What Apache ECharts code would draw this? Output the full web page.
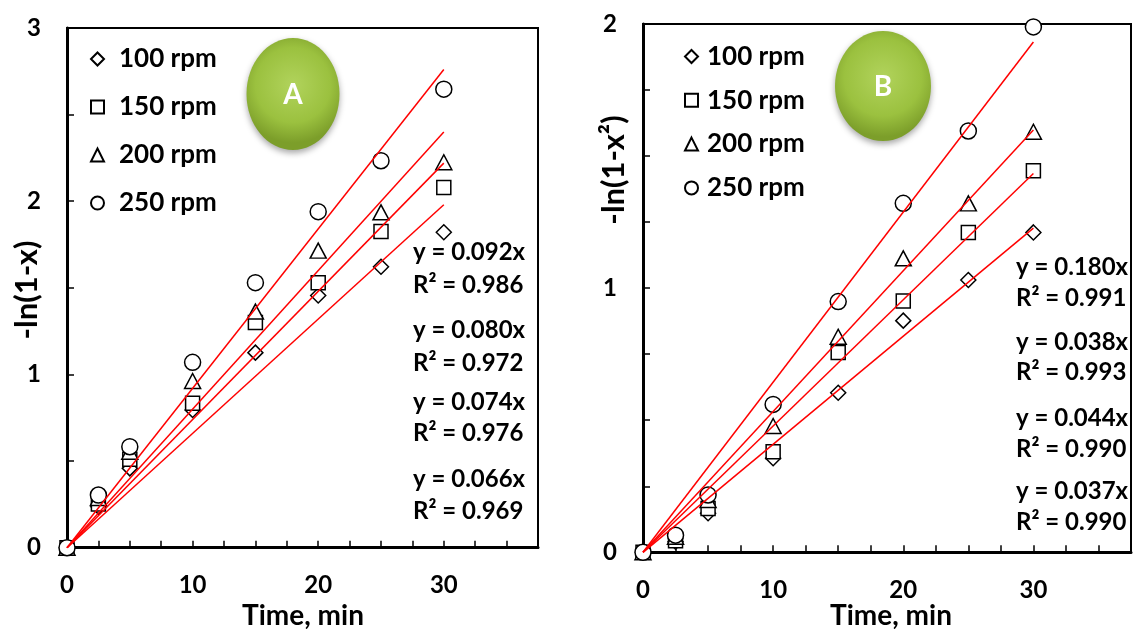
<!DOCTYPE html>
<html><head><meta charset="utf-8">
<script src="https://cdn.jsdelivr.net/npm/echarts@6/dist/echarts.min.js"></script>
<style>html,body{margin:0;padding:0;background:#fff}#c{width:1134px;height:629px}</style>
</head><body><div id="c"></div>
<script>
// ---- shared ----
const times = [0, 2.5, 5, 10, 15, 20, 25, 30];
const seriesNames = ['100 rpm', '150 rpm', '200 rpm', '250 rpm'];
const xTickLabels = ['0', '10', '20', '30'];
const fitEnd = 30;

// ---- Panel A : -ln(1-x) ----
const a100 = [0, 0.237, 0.458, 0.795, 1.126, 1.456, 1.622, 1.821];
const a150 = [0, 0.252, 0.510, 0.834, 1.300, 1.530, 1.825, 2.079];
const a200 = [0, 0.287, 0.554, 0.962, 1.363, 1.715, 1.936, 2.225];
const a250 = [0, 0.304, 0.583, 1.070, 1.530, 1.940, 2.234, 2.647];
const aSlopes = [0.066, 0.074, 0.080, 0.092];
const aYTicks = ['0', '1', '2', '3'];
const aEquations = ['y = 0.092x', 'R² = 0.986', 'y = 0.080x', 'R² = 0.972', 'y = 0.074x', 'R² = 0.976', 'y = 0.066x', 'R² = 0.969'];

// ---- Panel B : -ln(1-x^2) ----
const b100 = [0, 0.040, 0.148, 0.356, 0.604, 0.877, 1.031, 1.211];
const b150 = [0, 0.044, 0.166, 0.381, 0.756, 0.951, 1.211, 1.444];
const b200 = [0, 0.059, 0.198, 0.478, 0.816, 1.113, 1.321, 1.592];
const b250 = [0, 0.065, 0.217, 0.560, 0.949, 1.321, 1.595, 1.989];
const bSlopes = [0.0409, 0.0478, 0.0533, 0.0644];
const bYTicks = ['0', '1', '2'];
const bEquations = ['y = 0.180x', 'R² = 0.991', 'y = 0.038x', 'R² = 0.993', 'y = 0.044x', 'R² = 0.990', 'y = 0.037x', 'R² = 0.990'];

// ---- styling ----
const FONT = 'Lato, "Open Sans", sans-serif';
const symbols = ['diamond', 'rect', 'triangle', 'circle'];
const symbolSizes = [15, 14, [16, 15], 16];

const chart = echarts.init(document.getElementById('c'), null, {renderer: 'canvas'});

function xAxisFor(gi) {
  return {
    type: 'value', gridIndex: gi, min: 0, max: 37.5, interval: 2.5,
    axisLine: {show: true, onZero: false, lineStyle: {color: '#000', width: 3}},
    axisTick: {show: true, inside: true, length: 7, lineStyle: {color: '#000', width: 1.5}},
    splitLine: {show: false},
    axisLabel: {
      show: true, margin: 26, color: '#000', fontFamily: FONT, fontWeight: 'bold', fontSize: 24,
      formatter: v => { const i = xTickLabels.indexOf(String(v)); return i >= 0 ? xTickLabels[i] : ''; }
    }
  };
}
function yAxisFor(gi, max, interval, labels) {
  return {
    type: 'value', gridIndex: gi, min: 0, max: max, interval: interval,
    axisLine: {show: true, onZero: false, lineStyle: {color: '#000', width: 3}},
    axisTick: {show: true, inside: true, length: 7, lineStyle: {color: '#000', width: 1.5}},
    splitLine: {show: false},
    axisLabel: {
      show: true, margin: 26, color: '#000', fontFamily: FONT, fontWeight: 'bold', fontSize: 24,
      formatter: v => { const i = labels.indexOf(String(v)); return i >= 0 ? labels[i] : ''; }
    }
  };
}

function scatterSeries(gi, arrays) {
  return arrays.map((arr, k) => ({
    type: 'scatter', name: seriesNames[k], xAxisIndex: gi, yAxisIndex: gi,
    symbol: symbols[k], symbolSize: symbolSizes[k],
    itemStyle: {color: '#fff', borderColor: '#000', borderWidth: 1.5, opacity: 1},
    emphasis: {disabled: true},
    data: times.map((t, i) => [t, arr[i]]), z: 3
  }));
}
function fitSeries(gi, slopes) {
  return slopes.map(s => ({
    type: 'line', xAxisIndex: gi, yAxisIndex: gi, symbol: 'none', silent: true,
    lineStyle: {color: '#ff0000', width: 1.5}, z: 4,
    data: [[0, 0], [fitEnd, s * fitEnd]]
  }));
}

function legendFor(left, top, gap, pad) {
  return {
    orient: 'vertical', left: left, top: top, itemWidth: 13, itemHeight: 13, itemGap: gap,
    selectedMode: false, data: seriesNames,
    textStyle: {color: '#000', fontFamily: FONT, fontWeight: 'bold', fontSize: 26, padding: [0, 0, 0, pad]}
  };
}

function badge(cx, cy, rx, ry, letter) {
  return [{
    type: 'ellipse', shape: {cx: cx, cy: cy, rx: rx, ry: ry}, z: 10,
    style: {
      fill: new echarts.graphic.RadialGradient(0.5, 0.42, 0.62, [
        {offset: 0, color: '#b1d35c'}, {offset: 0.65, color: '#9bc13f'}, {offset: 1, color: '#7c9e2a'}
      ]),
      shadowBlur: 6, shadowColor: 'rgba(0,0,0,0.35)', shadowOffsetY: 3
    }
  }, {
    type: 'text', x: cx, y: cy + 1, z: 11,
    style: {text: letter, fill: '#fff', font: 'bold 28px ' + FONT, textAlign: 'center', textVerticalAlign: 'middle', align: 'center', verticalAlign: 'middle'}
  }];
}
function txt(x, y, s, size, align, rot) {
  return {
    type: 'text', x: x, y: y, rotation: rot || 0, z: 12,
    style: {text: s, fill: '#000', font: 'bold ' + size + 'px ' + FONT, textAlign: align, textVerticalAlign: 'middle', align: align, verticalAlign: 'middle'}
  };
}

const aEqY = [252, 285, 330, 363, 402, 433, 479, 511];
const bEqY = [267, 298, 342, 372, 418, 449, 491, 522];

const graphics = [].concat(
  badge(293, 94, 46.5, 56, 'A'),
  badge(883, 86, 48, 55, 'B'),
  [txt(27, 290, '-ln(1-x)', 31, 'center', Math.PI / 2),
   txt(614, 170, '-ln(1-x²)', 31, 'center', Math.PI / 2),
   txt(303, 616, 'Time, min', 28, 'center'),
   txt(891, 616, 'Time, min', 28, 'center')],
  aEquations.map((s, i) => txt(413, aEqY[i], s, 24, 'left')),
  bEquations.map((s, i) => txt(1016, bEqY[i], s, 24, 'left'))
);

chart.setOption({
  animation: false,
  backgroundColor: '#fff',
  grid: [
    {left: 67, top: 28, width: 471, height: 519.7, containLabel: false, show: true, borderColor: '#000', borderWidth: 2, backgroundColor: 'transparent'},
    {left: 643, top: 24, width: 497.6, height: 528.3, containLabel: false, show: true, borderColor: '#000', borderWidth: 2, backgroundColor: 'transparent'}
  ],
  xAxis: [xAxisFor(0), xAxisFor(1)],
  yAxis: [yAxisFor(0, 3, 0.5, aYTicks), yAxisFor(1, 2, 0.25, bYTicks)],
  legend: [legendFor(85, 41, 22, 10), legendFor(679, 38.5, 17.8, 4)],
  series: [].concat(
    scatterSeries(0, [a100, a150, a200, a250]),
    fitSeries(0, aSlopes),
    scatterSeries(1, [b100, b150, b200, b250]),
    fitSeries(1, bSlopes)
  ),
  graphic: graphics
});
</script></body></html>
